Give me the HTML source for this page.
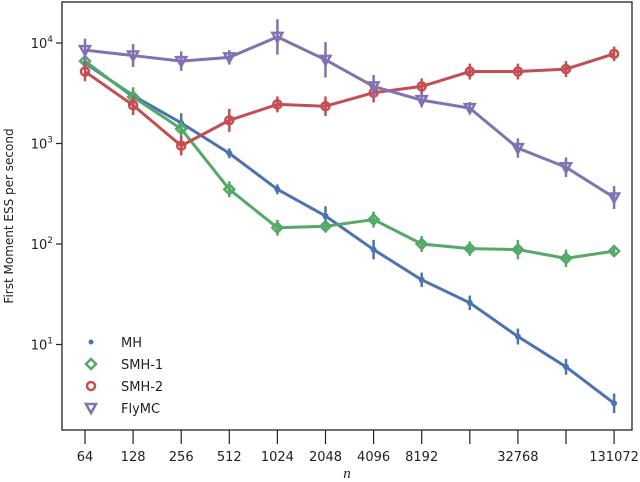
<!DOCTYPE html>
<html><head><meta charset="utf-8"><style>
body{margin:0;background:#fff}
svg{display:block;font-family:"DejaVu Sans","Liberation Sans",sans-serif}
</style></head><body>
<svg id="chart" width="640" height="482"></svg>
<script>
const ns="http://www.w3.org/2000/svg";
const nValues=[64,128,256,512,1024,2048,4096,8192,16384,32768,65536,131072];
const tickLabels=["64","128","256","512","1024","2048","4096","8192","","32768","","131072"];
const mhValues=[6300,3000,1600,800,350,190,88,44,26,12,6,2.6];
const mhErr=[0.15,0.12,0.25,0.12,0.12,0.25,0.25,0.18,0.18,0.2,0.2,0.25];
const smh1Values=[6600,2900,1400,350,145,150,175,100,90,88,72,85];
const smh1Err=[0.12,0.25,0.2,0.2,0.2,0.15,0.2,0.2,0.18,0.25,0.22,0.12];
const smh2Values=[5200,2400,950,1700,2450,2350,3200,3700,5200,5200,5500,7800];
const smh2Err=[0.25,0.25,0.25,0.3,0.2,0.25,0.25,0.2,0.2,0.2,0.2,0.18];
const flyValues=[8500,7500,6600,7200,11500,6800,3700,2700,2250,900,580,290];
const flyErr=[0.3,0.3,0.25,0.18,0.5,0.5,0.3,0.18,0.15,0.25,0.25,0.3];
const L=62,R=632,T=2,B=430;
const xs=v=>85+48.1*Math.log2(v/64);
const ys=v=>445-100.5*Math.log10(v);
const svg=document.getElementById('chart');
function mk(t,a,p){const e=document.createElementNS(ns,t);for(const k in a)e.setAttribute(k,a[k]);(p||svg).appendChild(e);return e;}
const frame=mk('rect',{x:L,y:T,width:R-L,height:B-T,fill:'none',stroke:'#222','stroke-width':1.3});


[1,2,3,4].forEach(p=>{
 const y=ys(Math.pow(10,p));
 mk('line',{x1:L-6,x2:L,y1:y,y2:y,stroke:'#222','stroke-width':1.2});
 const t=mk('text',{x:L-9,y:y+5,'text-anchor':'end','font-size':13,fill:'#222'});
 t.textContent='10';
 const s=mk('tspan',{dy:-6,'font-size':9},t);s.textContent=p;
 
 
});
nValues.forEach((v,i)=>{
 const x=xs(v);
 mk('line',{x1:x,x2:x,y1:B,y2:B+14,stroke:'#222','stroke-width':1.2});
 const t=mk('text',{x:x,y:B+31,'text-anchor':'middle','font-size':13,fill:'#222'});
 t.textContent=tickLabels[i];
 
 
});
const xt=mk('text',{x:347,y:478,'text-anchor':'middle','font-size':15,'font-style':'italic',fill:'#222','font-family':'Liberation Serif'});
xt.textContent='n';


const yt=mk('text',{x:13,y:216,'text-anchor':'middle','font-size':12,fill:'#222',transform:'rotate(-90 13 216)'});
yt.textContent='First Moment ESS per second';


function marker(kind,x,y,c,g){
 if(kind==='dot')mk('circle',{cx:x,cy:y,r:3,fill:c},g);
 if(kind==='diamond')mk('polygon',{points:`${x},${y-5} ${x+5},${y} ${x},${y+5} ${x-5},${y}`,fill:'none',stroke:c,'stroke-width':2.5},g);
 if(kind==='circle')mk('circle',{cx:x,cy:y,r:4,fill:'none',stroke:c,'stroke-width':2.5},g);
 if(kind==='tri')mk('polygon',{points:`${x-5},${y-4} ${x+5},${y-4} ${x},${y+5}`,fill:'none',stroke:c,'stroke-width':2.5},g);
}
function series(name,vals,errs,c,kind){
 const g=mk('g',{});
 
 
 mk('polyline',{points:vals.map((v,i)=>xs(nValues[i])+','+ys(v)).join(' '),fill:'none',stroke:c,'stroke-width':3,'stroke-linejoin':'round'},g);
 vals.forEach((v,i)=>{
  const x=xs(nValues[i]);
  mk('line',{x1:x,x2:x,y1:ys(v*(1+errs[i])),y2:ys(v/(1+errs[i])),stroke:c,'stroke-width':2.5},g);
  marker(kind,x,ys(v),c,g);
 });
}
series('mh',mhValues,mhErr,'#4c72b0','dot');
series('smh-1',smh1Values,smh1Err,'#55a868','diamond');
series('smh-2',smh2Values,smh2Err,'#c44e52','circle');
series('flymc',flyValues,flyErr,'#8172b2','tri');
const leg=[['MH','#4c72b0','dot'],['SMH-1','#55a868','diamond'],['SMH-2','#c44e52','circle'],['FlyMC','#8172b2','tri']];
leg.forEach((l,i)=>{
 const y=342+22*i;
 const g=mk('g',{});
 
 
 if(l[2]==='dot')mk('circle',{cx:91,cy:y,r:2.5,fill:l[1]},g);
 else if(l[2]==='diamond')mk('polygon',{points:`91,${y-5} 96,${y} 91,${y+5} 86,${y}`,fill:'none',stroke:l[1],'stroke-width':2.5},g);
 else if(l[2]==='circle')mk('circle',{cx:91,cy:y,r:4,fill:'none',stroke:l[1],'stroke-width':2.5},g);
 else mk('polygon',{points:`86,${y-4} 96,${y-4} 91,${y+5}`,fill:'none',stroke:l[1],'stroke-width':2.5},g);
 const t=mk('text',{x:121,y:y+5,'font-size':13,fill:'#222'},g);
 t.textContent=l[0];
});
</script>
</body></html>
